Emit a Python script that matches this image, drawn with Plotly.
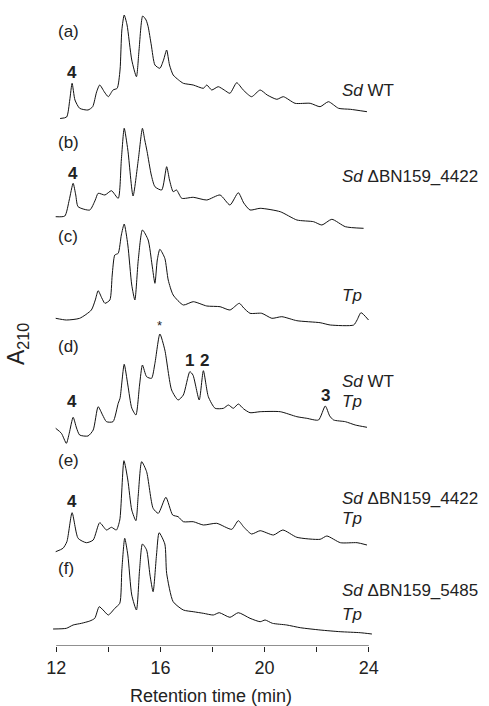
import plotly.graph_objects as go

# ---------------- data (retention time in min, A210 in relative units above each trace's baseline) ----------
rt_a = [12.15, 12.4, 12.52, 12.61, 12.72, 12.9, 13.22, 13.4, 13.55, 13.67, 13.85, 14.0, 14.18, 14.34, 14.45, 14.52,
        14.61, 14.72, 14.9, 15.08, 15.18, 15.32, 15.45, 15.53, 15.65, 15.79, 15.98, 16.12, 16.24, 16.35, 16.49, 16.7,
        16.88, 17.26, 17.65, 17.78, 17.97, 18.22, 18.45, 18.67, 18.93, 19.18, 19.5, 19.83, 20.1, 20.47, 20.72, 21.17,
        21.75, 22.13, 22.45, 22.84, 23.29, 23.93]
abs_a = [1.5, 3, 20, 36.7, 20, 11.7, 10, 13.3, 28, 35, 28, 23.3, 30, 31.7, 50, 90,
         105, 95, 60, 43.3, 70, 104, 100, 93.3, 75, 55, 51.7, 60, 70, 55, 45, 40,
         36.7, 35, 31.7, 35, 30, 33.3, 30, 26.7, 37.3, 30, 23.3, 30, 25, 20.7, 23.3, 16.7,
         16.7, 13.3, 18.3, 11.7, 10.7, 8.3]

rt_b = [11.98, 12.33, 12.5, 12.65, 12.75, 12.84, 13.29, 13.5, 13.61, 13.87, 14.12, 14.38, 14.5, 14.61, 14.75, 14.95,
        15.15, 15.31, 15.4, 15.49, 15.65, 15.79, 16.05, 16.24, 16.35, 16.49, 16.62, 16.82, 17.26, 17.78, 18.29, 18.67,
        18.99, 19.2, 19.44, 19.83, 20.6, 21.24, 21.88, 22.2, 22.58, 23.1, 23.8]
abs_b = [3.3, 4, 20, 36.7, 25, 13.3, 10, 20, 26.7, 25, 29.3, 21.7, 60, 91.7, 70, 24,
         60, 91.7, 80, 68.3, 45, 33.3, 30, 53.3, 40, 28.3, 30, 21.7, 22.7, 20, 25, 15,
         27.3, 17, 10, 11.7, 8.3, 0, -1.7, -5, 0.7, -6.7, -8.3]

rt_c = [11.98, 12.39, 12.9, 13.35, 13.5, 13.61, 13.75, 13.87, 14.06, 14.15, 14.25, 14.38, 14.5, 14.61, 14.75, 14.9,
        15.02, 15.15, 15.31, 15.53, 15.68, 15.79, 15.88, 15.98, 16.17, 16.3, 16.49, 16.88, 17.26, 17.78, 18.29, 18.67,
        19.03, 19.2, 19.44, 19.89, 20.28, 20.66, 21.24, 22.13, 22.52, 23.42, 23.55, 23.7, 23.99]
abs_c = [1.7, 0, 1.7, 10, 20, 29.3, 22, 16.7, 20, 45, 65, 66.7, 85, 96, 75, 35,
         20, 60, 90, 80, 55, 36.7, 60, 70.7, 61.7, 40, 25, 15, 18.3, 14, 13.3, 10,
         16.7, 12, 6.7, 6.7, 1.7, 3.3, -0.7, -2.7, -5, -5, 0, 7.3, 0]

rt_d = [11.98, 12.2, 12.39, 12.5, 12.65, 12.78, 12.9, 13.22, 13.42, 13.61, 13.78, 13.93, 14.18, 14.38, 14.45, 14.61,
        14.75, 14.9, 15.06, 15.2, 15.31, 15.47, 15.66, 15.79, 15.98, 16.17, 16.43, 16.68, 16.88, 17.13, 17.25, 17.49,
        17.65, 17.84, 18.1, 18.42, 18.61, 18.8, 18.99, 19.2, 19.44, 19.83, 20.6, 21.24, 21.62, 22.07, 22.33, 22.5,
        22.65, 23.1, 23.48, 23.93]
abs_d = [1.7, -3.3, -13.3, -3.3, 12.7, 2, -5, -6, 0, 23.3, 15, 8.3, 8.3, 26.7, 31.7, 65.7,
         45, 22, 15, 45, 65, 53.3, 51.7, 66.7, 96, 80, 40, 30, 35, 58.3, 55, 30,
         59.3, 33.3, 21.7, 21.7, 25, 21.7, 26, 21, 17.3, 18.3, 18.3, 13.3, 11.7, 10, 24, 14,
         10, 8.3, 5, 2.7]

rt_e = [11.98, 12.26, 12.41, 12.61, 12.84, 13.16, 13.42, 13.67, 13.93, 14.12, 14.31, 14.44, 14.6, 14.75, 14.9, 15.06,
        15.15, 15.28, 15.47, 15.72, 15.92, 16.21, 16.47, 16.68, 16.88, 17.26, 17.65, 18.16, 18.74, 18.99, 19.2, 19.5,
        19.83, 20.34, 20.7, 21.24, 22.13, 22.39, 22.91, 23.55, 23.93]
abs_e = [-1.7, 1.7, 8.3, 37.3, 11.7, 7.3, 10, 27.3, 20, 22.7, 20, 30, 89.3, 70, 40, 29.3,
         55, 88.3, 78.3, 41.7, 36.7, 52.7, 35, 33.3, 28.3, 28.3, 25, 26.7, 20.7, 29.3, 23, 16,
         19.3, 15, 20, 12.7, 10.7, 14, 7.3, 7.3, 5]

rt_f = [11.88, 12.39, 12.65, 12.97, 13.29, 13.48, 13.65, 13.8, 14.0, 14.25, 14.44, 14.52, 14.63, 14.75, 14.9, 15.08,
        15.2, 15.31, 15.47, 15.6, 15.72, 15.85, 15.95, 16.17, 16.24, 16.49, 16.88, 17.26, 17.65, 18.03, 18.26, 18.67,
        18.99, 19.44, 19.83, 20.02, 20.3, 20.85, 21.37, 22.13, 22.9, 23.67, 24.12]
abs_f = [1, 1.7, 5, 6.7, 9, 11.7, 23.3, 20, 15, 21.7, 26.7, 60, 91.7, 75, 35, 20,
         60, 86, 80, 55, 38.3, 75, 97.3, 86, 56.7, 28.3, 20, 18.3, 16.7, 15, 17.3, 12.7,
         17.3, 11.7, 8.3, 10, 6.7, 5, 2.3, 0, -1.7, -2.7, -4]

trace_offsets = [526, 426, 326, 216, 96, 16]
panel_labels = ["(a)", "(b)", "(c)", "(d)", "(e)", "(f)"]
strain_labels = [["<i>Sd</i> WT"], ["<i>Sd</i> ΔBN159_4422"], ["<i>Tp</i>"],
                 ["<i>Sd</i> WT", "<i>Tp</i>"], ["<i>Sd</i> ΔBN159_4422", "<i>Tp</i>"],
                 ["<i>Sd</i> ΔBN159_5485", "<i>Tp</i>"]]
tick_vals = [12, 16, 20, 24]
tick_text = ["12", "16", "20", "24"]

series = [(rt_a, abs_a), (rt_b, abs_b), (rt_c, abs_c), (rt_d, abs_d), (rt_e, abs_e), (rt_f, abs_f)]

FONT = "Liberation Sans, Arial, Helvetica, sans-serif"
INK = "#222222"
fig = go.Figure()
for (rt, ab), off in zip(series, trace_offsets):
    fig.add_trace(go.Scatter(x=rt, y=[v + off for v in ab], mode="lines",
                             line=dict(color="#111111", width=1.0, shape="spline", smoothing=0.6),
                             hoverinfo="skip", showlegend=False))

ann = []
panel_y = [614.3, 504, 410, 300, 186, 78]
for lab, py in zip(panel_labels, panel_y):
    ann.append(dict(xref="x", yref="y", x=12.0, y=py, text=lab, xanchor="left", yanchor="middle",
                    showarrow=False, font=dict(size=17, color=INK)))
strain_y = [[556], [469.3], [351], [264.3, 244.3], [147.7, 127.7], [55.3, 31.5]]
for labs, ys in zip(strain_labels, strain_y):
    for lab, py in zip(labs, ys):
        ann.append(dict(xref="x", yref="y", x=22.9, y=py, text=lab, xanchor="left", yanchor="middle",
                        showarrow=False, font=dict(size=17, color=INK)))
peaks = [(12.59, 574, "<b>4</b>"), (12.65, 472.7, "<b>4</b>"), (12.62, 244.3, "<b>4</b>"), (12.59, 144.3, "<b>4</b>"),
         (17.1, 286, "<b>1</b>"), (17.71, 286, "<b>2</b>"), (22.33, 251, "<b>3</b>")]
for x, y, t in peaks:
    ann.append(dict(xref="x", yref="y", x=x, y=y, text=t, xanchor="center", yanchor="middle",
                    showarrow=False, font=dict(size=17, color=INK)))
ann.append(dict(xref="x", yref="y", x=15.98, y=321, text="*", xanchor="center", yanchor="middle",
                showarrow=False, font=dict(size=13, color=INK)))
ann.append(dict(xref="x", yref="paper", x=17.93, y=-50 / 646, text="Retention time (min)", xanchor="center",
                yanchor="middle", showarrow=False, font=dict(size=18, color=INK)))
ann.append(dict(xref="paper", yref="y", x=-0.105, y=302, text="A<sub>210</sub>", textangle=-90,
                xanchor="center", yanchor="middle", showarrow=False, font=dict(size=23, color=INK)))

fig.update_layout(
    width=489, height=706,
    margin=dict(l=51.3, r=115.3, t=0, b=60, autoexpand=False),
    paper_bgcolor="white", plot_bgcolor="white",
    font=dict(family=FONT, color=INK),
    annotations=ann,
    shapes=[dict(type="line", xref="x", yref="y", x0=12, x1=24, y0=0, y1=0,
                 line=dict(color=INK, width=1.2))],
)
fig.update_xaxes(range=[11.8, 24.2], tickvals=tick_vals, ticktext=tick_text, ticks="outside", ticklen=5,
                 tickwidth=1.1, tickcolor=INK, showgrid=False, zeroline=False, showline=False,
                 tickfont=dict(size=18, color=INK),
                 minor=dict(tick0=12, dtick=2, ticks="outside", ticklen=5, tickwidth=1.1, tickcolor=INK))
fig.update_yaxes(range=[0, 646], visible=False, showgrid=False, zeroline=False)

fig.write_html("out.html", config={"displayModeBar": False},
               post_script="document.body.style.margin='0';document.body.style.overflow='hidden';")
